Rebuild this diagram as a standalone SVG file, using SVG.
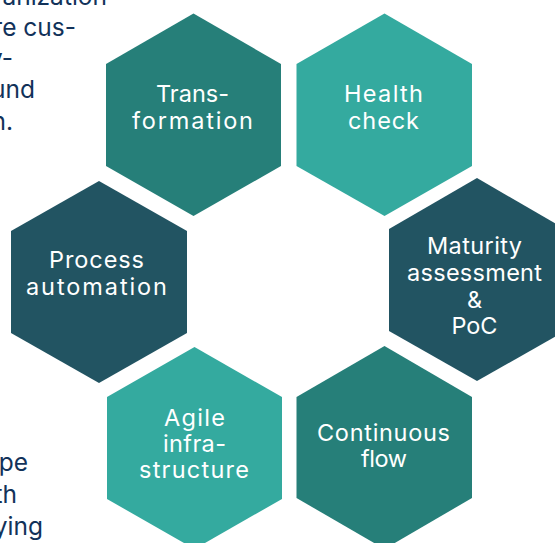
<svg xmlns="http://www.w3.org/2000/svg" width="555" height="543" viewBox="0 0 555 543">
<style>
.a{fill:#267f79}.b{fill:#34aa9f}.c{fill:#225462}
.l{font-family:"Inter","Noto Sans",sans-serif;font-size:23.500px;font-weight:400;fill:#fff;text-anchor:middle}
.t{font-family:"Inter","Noto Sans",sans-serif;font-size:24.500px;font-weight:400;fill:#12325a;text-anchor:end}
</style>
<rect width="555" height="543" fill="#fff"/>
<g id="body-text">
<text class="t" x="107" y="5">anization</text>
<text class="t" x="76" y="36">re cus-</text>
<text class="t" x="13" y="67">y-</text>
<text class="t" x="35" y="98">und</text>
<text class="t" x="13" y="130">n.</text>
<text class="t" x="28" y="471">pe</text>
<text class="t" x="17" y="503">th</text>
<text class="t" x="43" y="535">ying</text>
</g>
<g id="transformation"><polygon class="a" points="193.500,13.500 281,64 281,166 193.500,216 106,166 106,64"/><text class="l"><tspan x="192.500" y="102" textLength="73">Trans-</tspan><tspan x="192.500" y="129" textLength="121">formation</tspan></text></g>
<g id="health-check"><polygon class="b" points="384.500,13.500 472,64 472,166 384.500,216 296.500,166 296.500,64"/><text class="l"><tspan x="383.500" y="102" textLength="79">Health</tspan><tspan x="383.500" y="129" textLength="71">check</tspan></text></g>
<g id="maturity"><polygon class="c" points="477,178 565,229 565,331 477,381 389,331 389,229"/><text class="l"><tspan x="474.500" y="254" textLength="95">Maturity</tspan><tspan x="474.500" y="281" textLength="135">assessment</tspan><tspan x="474.500" y="308" textLength="16">&amp;</tspan><tspan x="474.500" y="334" textLength="46">PoC</tspan></text></g>
<g id="continuous-flow"><polygon class="a" points="384.500,346 472,397 472,498 384.500,549 296.500,498 296.500,397"/><text class="l"><tspan x="383.500" y="441" textLength="133">Continuous</tspan><tspan x="384" y="467" textLength="46">flow</tspan></text></g>
<g id="agile"><polygon class="b" points="194.500,347 282,397 282,499 194.500,549 107,499 107,397"/><text class="l"><tspan x="194.500" y="426" textLength="61">Agile</tspan><tspan x="194.500" y="452" textLength="63">infra-</tspan><tspan x="194" y="478" textLength="110">structure</tspan></text></g>
<g id="process-automation"><polygon class="c" points="99,181 187,231 187,333 99,383 11,333 11,231"/><text class="l"><tspan x="96.500" y="268" textLength="95">Process</tspan><tspan x="96.500" y="295" textLength="141">automation</tspan></text></g>
</svg>
